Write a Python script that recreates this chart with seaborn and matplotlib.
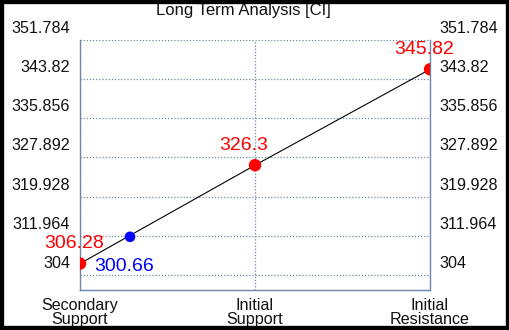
import matplotlib
matplotlib.use("Agg")
import matplotlib.pyplot as plt
import matplotlib.transforms as mtransforms
from matplotlib.patches import Rectangle
import seaborn as sns
import pandas as pd

# ---- data ----
categories = ["Secondary\nSupport", "Initial\nSupport", "Initial\nResistance"]
level_values = [306.28, 326.3, 345.82]
level_labels = ["306.28", "326.3", "345.82"]
current_pos = [0.286]          # position along category axis
current_value = [311.73]       # where the marker sits on the line
current_labels = ["300.66"]
y_ticks = [304, 311.964, 319.928, 327.892, 335.856, 343.82, 351.784]
y_tick_labels = ["304", "311.964", "319.928", "327.892", "335.856", "343.82", "351.784"]
title = "Long Term Analysis [CI]"

sns.set_style("white")
plt.rcParams["font.family"] = ["Liberation Sans", "DejaVu Sans"]

W, H = 510, 330
fig = plt.figure(figsize=(W / 100, H / 100), dpi=100)
ax = fig.add_axes([80 / W, (H - 290) / H, 350 / W, 250 / H])

df = pd.DataFrame({"x": list(range(len(categories))), "y": level_values})
cur = pd.DataFrame({"x": current_pos, "y": current_value})

sns.lineplot(data=df, x="x", y="y", ax=ax, color="black", linewidth=0.8, zorder=3)
sns.scatterplot(data=df, x="x", y="y", ax=ax, color="#ff0000", s=80, edgecolor="none", zorder=4)
sns.scatterplot(data=cur, x="x", y="y", ax=ax, color="#0000ff", s=58, edgecolor="none", zorder=4)

for xi, yi, lab in zip(df["x"], df["y"], level_labels):
    ax.annotate(lab, (xi, yi), xytext=(-25.5, 14.3), textcoords="offset points",
                ha="left", va="center", color="#ff0000", fontsize=14, zorder=5)
for xi, yi, lab in zip(cur["x"], cur["y"], current_labels):
    ax.annotate(lab, (xi, yi), xytext=(-25.5, -21.3), textcoords="offset points",
                ha="left", va="center", color="#0000ff", fontsize=14, zorder=5)

ax.set_xlim(0, len(categories) - 1)
ax.set_ylim(300.9, 351.784)
ax.set_xticks(range(len(categories)))
ax.set_xticklabels(categories, linespacing=0.92)
ax.set_yticks(y_ticks)
ax.set_yticklabels(y_tick_labels)
ax.set_xlabel("")
ax.set_ylabel("")

gcol = "#7088a8"
ax.grid(True, color=gcol, linestyle=(0, (1, 1.5)), linewidth=0.9)
for side in ["left", "right", "bottom"]:
    ax.spines[side].set_color(gcol)
    ax.spines[side].set_linewidth(1.0)
ax.spines["top"].set_visible(False)

ax.tick_params(axis="y", which="both", length=0, labelsize=11.6, labelcolor="#111111",
               left=True, right=True, labelleft=True, labelright=True, pad=7)
ax.tick_params(axis="x", length=0, labelsize=11.6, labelcolor="#111111", pad=5.5)

offset = mtransforms.ScaledTranslation(0, 13 / 100, fig.dpi_scale_trans)
for t in ax.yaxis.get_major_ticks():
    t.label1.set_transform(t.label1.get_transform() + offset)
    t.label2.set_transform(t.label2.get_transform() + offset)

fig.text(243 / W, 1 - 10 / H, title, ha="center", va="center", fontsize=12, color="#111111")

fig.patches.append(Rectangle((0, 0), 1, 1, transform=fig.transFigure, fill=False,
                             edgecolor="black", linewidth=6, zorder=10))

fig.savefig("out.png", dpi=100, facecolor="white")
